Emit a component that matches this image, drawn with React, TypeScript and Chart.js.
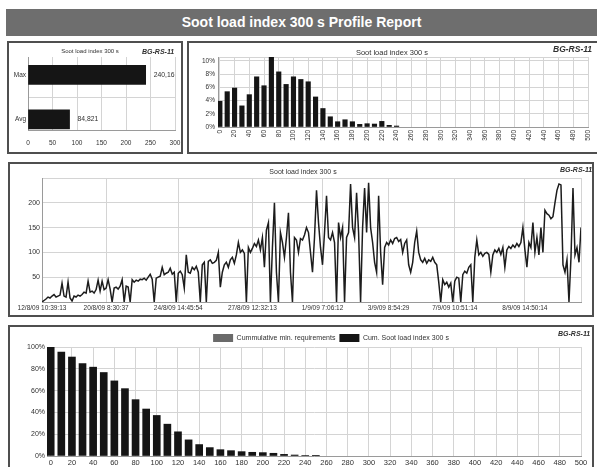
import React, { useEffect, useRef } from "react";
import { Chart, registerables } from "chart.js";

Chart.register(...registerables);

const FONT = "'Liberation Sans', Arial, Helvetica, sans-serif";
const GRID = "#d4d4d4";
const AXIS = "#9a9a9a";
const TXT = "#303030";

// ---------- texts ----------
const reportTitle = "Soot load index 300 s Profile Report";
const panelTitle = "Soot load index 300 s";
const unitId = "BG-RS-11";

// ---------- panel 1: summary ----------
const summaryLabels = ["Max", "Avg"];
const summaryValues = [240.16, 84.821];
const summaryValueText = ["240,16", "84,821"];
const summaryTicks = [0, 50, 100, 150, 200, 250, 300];

// ---------- panel 2: distribution (%) per 10-unit bin ----------
const distBins = [0, 10, 20, 30, 40, 50, 60, 70, 80, 90, 100, 110, 120, 130, 140, 150, 160, 170, 180, 190, 200, 210, 220, 230, 240];
const distPercent = [3.9, 5.35, 5.9, 3.2, 4.9, 7.6, 6.25, 10.6, 8.35, 6.45, 7.6, 7.2, 6.85, 4.55, 2.8, 1.55, 0.8, 1.1, 0.8, 0.4, 0.5, 0.45, 0.85, 0.25, 0.15];
const binTicks = [0, 20, 40, 60, 80, 100, 120, 140, 160, 180, 200, 220, 240, 260, 280, 300, 320, 340, 360, 380, 400, 420, 440, 460, 480, 500];
const distYTicks = [0, 2, 4, 6, 8, 10, 10.6];

// ---------- panel 3: time series ----------
const sootSeries = [
  0, 3, 6, 10, 8, 12, 15, 10, 12, 14,
  38, 12, 10, 40, 8, 2, 12, 10, 14, 12,
  15, 20, 18, 42, 20, 22, 18, 25, 44, 22,
  42, 25, 28, 45, 26, 0, 28, 30, 26, 32,
  45, 0, 32, 30, 0, 45, 40, 44, 42, 46,
  45, 48, 44, 50, 56, 46, 0, 48, 50, 52,
  70, 55, 58, 60, 68, 56, 60, 0, 58, 62,
  55, 28, 95, 60, 58, 70, 65, 72, 60, 0,
  75, 80, 0, 82, 85, 78, 80, 84, 100, 30,
  60, 75, 80, 70, 85, 90, 78, 95, 120, 100,
  105, 98, 0, 110, 100, 108, 118, 112, 125, 105,
  130, 70, 145, 160, 0, 110, 200, 60, 0, 140,
  120, 90, 130, 180, 60, 0, 130, 125, 100, 128,
  125, 135, 150, 140, 100, 60, 130, 225, 160, 110,
  75, 140, 214, 130, 125, 140, 120, 0, 160, 130,
  150, 0, 130, 140, 238, 150, 130, 220, 140, 0,
  150, 230, 140, 240.16, 150, 120, 80, 60, 214, 100,
  35, 110, 120, 115, 125, 118, 128, 130, 122, 126,
  100, 118, 125, 75, 60, 80, 120, 143, 100, 85,
  80, 88, 78, 85, 82, 90, 80, 75, 40, 0,
  45, 35, 40, 30, 38, 0, 42, 50, 48, 0,
  55, 62, 58, 70, 75, 0, 90, 125, 95, 100,
  92, 98, 100, 96, 60, 95, 105, 100, 108, 96,
  110, 70, 105, 112, 108, 115, 110, 118, 112, 120,
  150, 105, 70, 120, 110, 160, 100, 130, 95, 150,
  100, 185, 178, 175, 168, 172, 200, 225, 238, 236,
  75, 60, 85, 0, 90, 230, 95, 110, 80, 150,
];
const timeTickIndex = [0, 32, 68, 105, 140, 173, 206, 241];
const timeTickLabels = [
  "12/8/09 10:39:13",
  "20/8/09 8:30:37",
  "24/8/09 14:45:54",
  "27/8/09 12:32:13",
  "1/9/09 7:06:12",
  "3/9/09 8:54:29",
  "7/9/09 10:51:14",
  "8/9/09 14:50:14",
];
const sootYTicks = [0, 50, 100, 150, 200, 250];

// ---------- panel 4: cumulative ----------
const cumBins = [0, 10, 20, 30, 40, 50, 60, 70, 80, 90, 100, 110, 120, 130, 140, 150, 160, 170, 180, 190, 200, 210, 220, 230, 240, 250];
const cumPercent = [100, 95.4, 90.8, 84.9, 81.5, 76.6, 68.9, 61.8, 51.7, 43.1, 37.2, 29.2, 22.2, 14.8, 10.5, 7.7, 5.8, 4.9, 4.0, 3.4, 3.1, 2.5, 1.5, 0.9, 0.4, 0.15];
const minRequirements: number[] = [];
const cumLegend = ["Cummulative min. requirements", "Cum. Soot load index 300 s"];

const f = (size: number) => ({ family: FONT, size });

// fixes the size an x axis takes and lets its end labels overhang the plot edges
const fixX = (h: number) => (s: any) => {
  s.height = h;
  s.paddingLeft = 0;
  s.paddingRight = 0;
};
const fixY = (w: number) => (s: any) => {
  s.width = w;
};

function ChartBox({ width, height, make }: { width: number; height: number; make: () => any }) {
  const ref = useRef<HTMLCanvasElement>(null);
  useEffect(() => {
    const chart = new Chart(ref.current as HTMLCanvasElement, make());
    return () => chart.destroy();
  }, []);
  return (
    <canvas
      ref={ref}
      width={width}
      height={height}
      style={{ position: "absolute", left: 0, top: 0, width, height, display: "block" }}
    />
  );
}

const summaryValuePlugin = {
  id: "summaryValueText",
  afterDatasetsDraw(chart: any) {
    const ctx = chart.ctx;
    const meta = chart.getDatasetMeta(0);
    ctx.save();
    ctx.font = `6.8px ${FONT}`;
    ctx.fillStyle = TXT;
    ctx.textBaseline = "middle";
    ctx.textAlign = "left";
    meta.data.forEach((bar: any, i: number) => {
      ctx.fillText(summaryValueText[i], bar.x + 8, bar.y);
    });
    ctx.restore();
  },
};

// shifts the (chart-area wide) legend sideways to sit where the report puts it
const legendShiftPlugin = {
  id: "legendShift",
  afterLayout(chart: any) {
    const lg = chart.legend;
    if (lg) {
      lg.left += 17;
      lg.right += 17;
    }
  },
};

function makeSummary() {
  return {
    type: "bar",
    data: {
      labels: summaryLabels,
      datasets: [{ data: summaryValues, backgroundColor: "#151515", borderWidth: 0, barThickness: 19 }],
    },
    options: {
      indexAxis: "y",
      responsive: false,
      animation: false,
      layout: { padding: { left: 0, right: 6, top: 14, bottom: 0 } },
      plugins: { legend: { display: false }, tooltip: { enabled: false } },
      scales: {
        x: {
          min: 0,
          max: 300,
          afterBuildTicks: (s: any) => { s.ticks = summaryTicks.map((v) => ({ value: v })); },
          ticks: { font: f(6.5), color: TXT, padding: 9, maxRotation: 0 },
          grid: { color: GRID, drawTicks: false },
          border: { color: AXIS },
          afterFit: fixX(22),
        },
        y: {
          // the report places the two bars lower in the plot than an even split
          afterBuildTicks: (s: any) => {
            s._startValue = -0.4;
            s._valueRange = 1.64;
          },
          ticks: { font: f(6.5), color: TXT, padding: 2 },
          grid: { color: GRID, drawTicks: false },
          border: { color: AXIS },
          afterFit: fixY(19),
        },
      },
    },
    plugins: [summaryValuePlugin],
  };
}

function makeDistribution() {
  return {
    type: "bar",
    data: {
      datasets: [{
        data: distBins.map((b, i) => ({ x: b, y: distPercent[i] })),
        backgroundColor: "#151515",
        borderWidth: 0,
        barThickness: 4.5,
      }],
    },
    options: {
      responsive: false,
      animation: false,
      layout: { padding: { left: 0, right: 9, top: 14, bottom: 0 } },
      plugins: { legend: { display: false }, tooltip: { enabled: false } },
      scales: {
        x: {
          type: "linear",
          offset: false,
          min: -2.5,
          max: 500,
          afterBuildTicks: (s: any) => { s.ticks = binTicks.map((v) => ({ value: v })); },
          ticks: { font: f(6.5), color: TXT, padding: 3, minRotation: 90, maxRotation: 90, autoSkip: false },
          grid: { color: GRID, drawTicks: false, offset: false },
          border: { color: AXIS },
          afterFit: fixX(25),
        },
        y: {
          min: 0,
          max: 10.6,
          afterBuildTicks: (s: any) => { s.ticks = distYTicks.map((v) => ({ value: v })); },
          ticks: {
            font: f(6.5),
            color: TXT,
            padding: 3,
            callback: (v: number) => (v % 2 === 0 ? `${v}%` : ""),
          },
          grid: { color: GRID, drawTicks: false },
          border: { color: AXIS },
          afterFit: fixY(29),
        },
      },
    },
  };
}

function makeSeries() {
  const last = sootSeries.length - 1;
  return {
    type: "line",
    data: {
      datasets: [{
        data: sootSeries.map((v, i) => ({ x: i, y: v })),
        borderColor: "#1c1c1c",
        borderWidth: 1.5,
        pointRadius: 0,
        tension: 0,
        fill: false,
      }],
    },
    options: {
      responsive: false,
      animation: false,
      layout: { padding: { left: 0, right: 11, top: 14, bottom: 0 } },
      plugins: { legend: { display: false }, tooltip: { enabled: false } },
      scales: {
        x: {
          type: "linear",
          min: 0,
          max: last,
          afterBuildTicks: (s: any) => {
            s.ticks = [...timeTickIndex, last].map((v) => ({ value: v }));
          },
          ticks: {
            font: f(6.5),
            color: TXT,
            padding: 2,
            maxRotation: 0,
            autoSkip: false,
            callback: (v: number) => {
              const k = timeTickIndex.indexOf(v);
              return k >= 0 ? timeTickLabels[k] : "";
            },
          },
          grid: { color: GRID, drawTicks: false },
          border: { color: AXIS },
          afterFit: fixX(13),
        },
        y: {
          min: 0,
          max: 250,
          afterBuildTicks: (s: any) => { s.ticks = sootYTicks.map((v) => ({ value: v })); },
          ticks: {
            font: f(7),
            color: TXT,
            padding: 2,
            callback: (v: number) => (v === 0 || v === 250 ? "" : `${v}`),
          },
          grid: { color: GRID, drawTicks: false },
          border: { color: AXIS },
          afterFit: fixY(32),
        },
      },
    },
  };
}

function makeCumulative() {
  return {
    type: "bar",
    data: {
      datasets: [
        {
          label: cumLegend[0],
          data: minRequirements,
          backgroundColor: "#6a6a6a",
          borderWidth: 0,
          grouped: false,
          barThickness: 7,
        },
        {
          label: cumLegend[1],
          data: cumBins.map((b, i) => ({ x: b, y: cumPercent[i] })),
          backgroundColor: "#151515",
          borderWidth: 0,
          grouped: false,
          barThickness: 7,
        },
      ],
    },
    options: {
      responsive: false,
      animation: false,
      layout: { padding: { left: 0, right: 11, top: 3, bottom: 0 } },
      plugins: {
        tooltip: { enabled: false },
        legend: {
          display: true,
          position: "top",
          fullSize: false,
          maxHeight: 17,
          labels: { boxWidth: 20, boxHeight: 8, padding: 4, font: f(7), color: TXT },
        },
      },
      scales: {
        x: {
          type: "linear",
          offset: false,
          min: -3.5,
          max: 500,
          afterBuildTicks: (s: any) => { s.ticks = binTicks.map((v) => ({ value: v })); },
          ticks: { font: f(7.5), color: TXT, padding: 2, maxRotation: 0, autoSkip: false },
          grid: { color: GRID, drawTicks: false, offset: false },
          border: { color: AXIS },
          afterFit: fixX(15),
        },
        y: {
          min: 0,
          max: 100,
          ticks: { stepSize: 10, font: f(7), color: TXT, padding: 2, callback: (v: number) => `${v}%` },
          grid: { color: GRID, drawTicks: false },
          border: { color: AXIS },
          afterFit: fixY(37),
        },
      },
    },
    plugins: [legendShiftPlugin],
  };
}

const panelStyle = (left: number, top: number, width: number, height: number): React.CSSProperties => ({
  position: "absolute",
  left,
  top,
  width,
  height,
  boxSizing: "border-box",
  border: "2px solid #4f4f4f",
  background: "#ffffff",
});

function Txt({ left, top, width, size, children, bold, italic, align }: any) {
  return (
    <div
      style={{
        position: "absolute",
        left,
        top,
        width,
        fontFamily: FONT,
        fontSize: size,
        lineHeight: `${size + 1}px`,
        fontWeight: bold ? 700 : 400,
        fontStyle: italic ? "italic" : "normal",
        color: TXT,
        textAlign: align || "left",
        whiteSpace: "nowrap",
        zIndex: 2,
      }}
    >
      {children}
    </div>
  );
}

export default function App() {
  return (
    <div
      style={{
        position: "fixed",
        left: 0,
        top: 0,
        width: 597,
        height: 467,
        overflow: "hidden",
        background: "#ffffff",
      }}
    >
      <div
        style={{
          position: "absolute",
          left: 6,
          top: 9,
          width: 591,
          height: 27,
          background: "#6e6e6e",
          color: "#ffffff",
          fontFamily: FONT,
          fontWeight: 700,
          fontSize: 14,
          lineHeight: "27px",
          textAlign: "center",
        }}
      >
        {reportTitle}
      </div>

      <div style={panelStyle(7, 41, 176, 113)}>
        <ChartBox width={172} height={109} make={makeSummary} />
      </div>
      <div style={panelStyle(187, 41, 412, 113)}>
        <ChartBox width={408} height={109} make={makeDistribution} />
      </div>
      <div style={panelStyle(8, 162, 586, 155)}>
        <ChartBox width={582} height={151} make={makeSeries} />
      </div>
      <div style={panelStyle(8, 325, 586, 148)}>
        <ChartBox width={582} height={144} make={makeCumulative} />
      </div>

      <Txt left={40} top={48} width={100} size={6} align="center">{panelTitle}</Txt>
      <Txt left={142} top={48} size={7} bold italic>{unitId}</Txt>

      <Txt left={342} top={49} width={100} size={7.5} align="center">{panelTitle}</Txt>
      <Txt left={553} top={45} size={8.5} bold italic>{unitId}</Txt>

      <Txt left={253} top={168} width={100} size={7} align="center">{panelTitle}</Txt>
      <Txt left={560} top={166} size={7} bold italic>{unitId}</Txt>

      <Txt left={558} top={330} size={7} bold italic>{unitId}</Txt>
    </div>
  );
}
